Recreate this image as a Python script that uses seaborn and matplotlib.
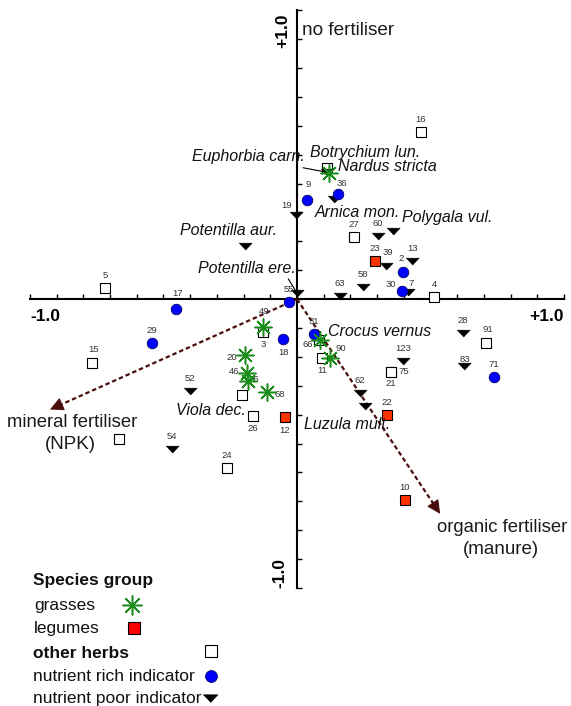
import numpy as np
import pandas as pd
import matplotlib
matplotlib.use("Agg")
import matplotlib.pyplot as plt
import seaborn as sns

# species scores on the two ordination axes
grass_x = [0.120, -0.127, -0.195, -0.187, -0.184, -0.112, 0.086, 0.124]
grass_y = [0.436, -0.097, -0.194, -0.256, -0.284, -0.322, -0.142, -0.204]
grass_lab = ["Nardus stricta", "49", "20", "46", "76", "68", "66", "90"]

legume_x = [0.292, -0.045, 0.337, 0.404]
legume_y = [0.131, -0.408, -0.401, -0.696]
legume_lab = ["23", "12", "22", "10"]

herb_x = [0.112, 0.464, -0.719, 0.213, 0.513, -0.768, -0.127, -0.206,
          -0.165, -0.262, -0.667, 0.708, 0.352, 0.352, 0.094, 0.082]
herb_y = [0.453, 0.578, 0.038, 0.215, 0.007, -0.221, -0.114, -0.332,
          -0.405, -0.585, -0.484, -0.152, -0.253, -0.253, -0.204, -0.142]
herb_lab = ["Botrychium lun.", "16", "5", "27", "4", "15", "3", "Viola dec.",
            "26", "24", "", "91", "21", "75", "11", "Crocus vernus"]

rich_x = [0.037, 0.154, 0.397, 0.393, -0.453, -0.543, -0.052, -0.030, 0.064, 0.738]
rich_y = [0.343, 0.363, 0.093, 0.028, -0.035, -0.152, -0.138, -0.010, -0.121, -0.270]
rich_lab = ["9", "36", "2", "30", "17", "29", "18", "55", "31", "71"]

poor_x = [0.112, 0.139, -0.004, -0.195, 0.303, 0.360, 0.333, 0.431, 0.416, 0.247,
          0.161, 0.000, 0.622, 0.625, 0.397, 0.236, 0.255, -0.401, -0.468]
poor_y = [0.439, 0.346, 0.291, 0.183, 0.218, 0.235, 0.114, 0.131, 0.024, 0.042,
          0.010, 0.021, -0.118, -0.232, -0.215, -0.325, -0.370, -0.318, -0.519]
poor_lab = ["Euphorbia carn.", "Arnica mon.", "19", "Potentilla aur.", "60",
            "Polygala vul.", "39", "13", "7", "58", "63", "Potentilla ere.",
            "28", "83", "123", "62", "Luzula mult.", "52", "54"]

# environmental vectors
env_names = ["mineral fertiliser", "organic fertiliser"]
env_sub = ["(NPK)", "(manure)"]
env_x = [-0.925, 0.536]
env_y = [-0.382, -0.743]

sns.set_theme(style="white")
plt.rcParams["font.family"] = ["Liberation Sans", "DejaVu Sans"]

TRI = [(-1.0, 0.5), (1.0, 0.5), (0.0, -0.55)]
ARROW_COL = "#4a0d0d"
STYLE = {
    "herbs": dict(marker="s", s=55, color="white", edgecolor="black", linewidth=0.8, zorder=3),
    "poor": dict(marker=TRI, s=88, color="black", edgecolor="black", linewidth=0.5, zorder=3.2),
    "rich": dict(marker="o", s=58, color="#0000ff", edgecolor="#000066", linewidth=0.6, zorder=3.4),
    "legumes": dict(marker="s", s=55, color="#ff3300", edgecolor="black", linewidth=0.8, zorder=3.6),
    "grasses": dict(marker=(8, 2, 0), s=150, color="#1a8c1a", linewidth=1.1, zorder=5),
}
GROUPS = [
    ("herbs", herb_x, herb_y, herb_lab),
    ("poor", poor_x, poor_y, poor_lab),
    ("rich", rich_x, rich_y, rich_lab),
    ("legumes", legume_x, legume_y, legume_lab),
    ("grasses", grass_x, grass_y, grass_lab),
]

# label placement (offset in points, alignment); default is centred above
LABEL_POS = {
    "7": (2, 6.5, "center"), "30": (-8, 5, "center"), "19": (-6.5, 6.5, "center"),
    "3": (0, -9, "center"), "18": (0, -9.5, "center"), "20": (-9.5, -1.5, "center"),
    "46": (-9, 1.5, "center"), "76": (4.5, 1.5, "center"), "68": (9, -1.5, "center"),
    "26": (0, -9, "center"), "12": (0, -10, "center"), "66": (-9, -3, "center"),
    "11": (0, -9, "center"), "90": (8, 7, "center"), "75": (9.5, 0.5, "center"),
    "21": (0, -8, "center"), "17": (1, 11.5, "center"), "9": (1, 11, "center"),
    "2": (-1.5, 10, "center"), "39": (1.5, 10, "center"), "49": (1, 11, "center"),
    "15": (1, 10, "center"), "91": (1, 10, "center"), "36": (3, 8, "center"),
    "83": (1, 5, "center"),
    "Botrychium lun.": (-12, 11.5, "left"), "Nardus stricta": (6.5, 5, "left"),
    "Euphorbia carn.": (-16, 11, "right"), "Arnica mon.": (-14, -9.5, "left"),
    "Polygala vul.": (6.5, 9.5, "left"), "Potentilla aur.": (-11.5, 11, "center"),
    "Potentilla ere.": (-0.7, 18, "right"), "Crocus vernus": (6.5, 6, "left"),
    "Viola dec.": (3, -11, "right"), "Luzula mult.": (-44, -13, "left"),
}
LEADERS = {"Euphorbia carn.": 0.83, "Potentilla ere.": 0.9}

fig = plt.figure(figsize=(5.71, 7.06), dpi=100)
ax = fig.add_axes([0, 0, 1, 1])
ax.set_xlim(-1.112, 1.026)
ax.set_ylim(-1.408, 1.035)

for key, xs, ys, labs in GROUPS:
    sns.scatterplot(x=xs, y=ys, ax=ax, legend=False, **STYLE[key])
    for x, y, lab in zip(xs, ys, labs):
        if not lab:
            continue
        dx, dy, ha = LABEL_POS.get(lab, (0, 9, "center"))
        if lab[0].isdigit():
            ax.annotate(lab, (x, y), xytext=(dx, dy), textcoords="offset points",
                        ha=ha, va="center", fontsize=6.8, color="#333333", zorder=4)
        else:
            props = None
            if lab in LEADERS:
                props = dict(arrowstyle="-", color="black", lw=0.8, shrinkA=0,
                             shrinkB=0, relpos=(LEADERS[lab], 0))
            ax.annotate(lab, (x, y), xytext=(dx, dy), textcoords="offset points",
                        ha=ha, va="center", fontsize=11.5, style="italic",
                        color="#111111", zorder=4, arrowprops=props)

# fertiliser vectors: dashed shaft plus a solid head
for x, y in zip(env_x, env_y):
    tip = np.array([x, y])
    back = tip * (1 - 0.04 / np.hypot(x, y))
    ax.plot([0, back[0]], [0, back[1]], ls=(0, (2, 1.3)), lw=1.6,
            color=ARROW_COL, zorder=2.8)
    ax.annotate("", xy=(x, y), xytext=(back[0], back[1]),
                arrowprops=dict(arrowstyle="-|>,head_length=0.6,head_width=0.3",
                                lw=0.8, color=ARROW_COL, mutation_scale=14,
                                shrinkA=0, shrinkB=0), zorder=2.9)

name_pos = [(62.6, -9.4, "right"), (-2, -10, "left")]
sub_pos = [(15, -25), (44, -26)]
for name, sub, x, y, npos, spos in zip(env_names, env_sub, env_x, env_y, name_pos, sub_pos):
    ax.annotate(name, (x, y), xytext=npos[:2], textcoords="offset points",
                ha=npos[2], va="center", fontsize=13.3, color="#1a1a1a")
    ax.annotate(sub, (x, y), xytext=spos, textcoords="offset points",
                ha="center", va="center", fontsize=13.5, color="#1a1a1a")

# axes crossing at the origin
for side in ["top", "right"]:
    ax.spines[side].set_visible(False)
ax.spines["left"].set_position(("data", 0))
ax.spines["bottom"].set_position(("data", 0))
for side in ["left", "bottom"]:
    ax.spines[side].set_bounds(-1, 1)
    ax.spines[side].set_linewidth(1.5)
    ax.spines[side].set_color("black")
    ax.spines[side].set_zorder(2.5)
ticks = np.round(np.arange(-1, 1.01, 0.1), 1)
ax.set_xticks(ticks)
ax.set_yticks(ticks)
ax.tick_params(direction="in", length=3.5, width=1, color="black",
               labelbottom=False, labelleft=False, bottom=True, left=True)
ax.grid(False)

tick_kw = dict(fontsize=12.5, fontweight="bold", color="black")
ax.text(-1.0, -0.035, "-1.0", ha="left", va="top", **tick_kw)
ax.text(1.0, -0.035, "+1.0", ha="right", va="top", **tick_kw)
ax.text(-0.025, 0.99, "+1.0", ha="right", va="top", rotation=90, **tick_kw)
ax.text(-0.035, -1.0, "-1.0", ha="right", va="bottom", rotation=90, **tick_kw)
ax.text(0.019, 0.93, "no fertiliser", ha="left", va="center", fontsize=13.7, color="#1a1a1a")

# legend, drawn by hand: text column on the left, symbols in two columns
legend_rows = [
    ("Species group", None, 0.058, 0.178, None),
    ("grasses", "grasses", 0.060, 0.143, 0.231),
    ("legumes", "legumes", 0.060, 0.110, 0.235),
    ("other herbs", "herbs", 0.058, 0.074, 0.370),
    ("nutrient rich indicator", "rich", 0.058, 0.042, 0.370),
    ("nutrient poor indicator", "poor", 0.058, 0.011, 0.368),
]
for text, key, tx, ty, mx in legend_rows:
    bold = text in ("Species group", "other herbs")
    ax.text(tx, ty, text, transform=ax.transAxes, ha="left", va="center",
            fontsize=12.5, fontweight="bold" if bold else "normal", color="#111111")
    if key:
        kw = dict(STYLE[key])
        kw["s"] = kw["s"] * 1.25
        if key == "legumes":
            kw["color"] = "#ff0000"
        my = ty + (0.004 if key == "herbs" else 0)
        ax.scatter([mx], [my], transform=ax.transAxes, clip_on=False, **kw)

fig.savefig("out.png", dpi=100)
